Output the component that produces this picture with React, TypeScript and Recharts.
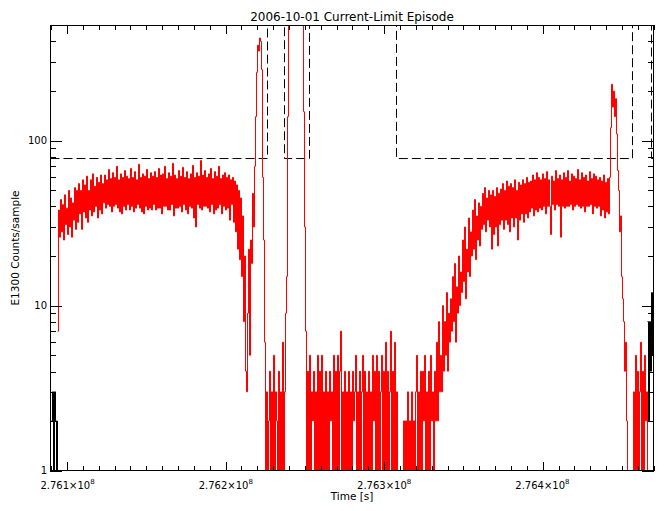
import { LineChart, Line, XAxis, YAxis } from "recharts";

// time axis is stored as seconds after 2.761e8
const X_DOMAIN = [-1075, 37016];
const Y_DOMAIN = [1, 500];

const majorTickTimes = [0, 10000, 20000, 30000];
const majorTickLabels = ["2.761", "2.762", "2.763", "2.764"];
const yMajorTicks = [1, 10, 100];
const yTicks = [1, 2, 3, 4, 5, 6, 7, 8, 9, 10, 20, 30, 40, 50, 60, 70, 80, 90, 100, 200, 300, 400];

// E1300 counts, one sample every RED_DT seconds starting at RED_T0
const RED_T0 = -632.8;
const RED_DT = 63.169;
const countsStart = [7, 38, 26, 44, 28, 41, 25, 47, 31, 39, 27, 50, 30, 45, 26, 42, 33, 52, 29, 50];
const countsEarly = [32, 55, 36, 50, 29, 58, 37, 54, 34, 61, 32, 50, 38, 58, 35, 63, 37, 53, 40, 60, 34, 56, 38, 62, 36, 55];
const countsPlateauA = [
  42, 62, 39, 58, 41, 67, 40, 59, 37, 64, 40, 60, 41, 70, 39, 58, 37, 63, 36, 60,
  40, 66, 38, 61, 41, 59, 38, 68, 40, 60, 37, 65, 39, 58, 41, 72, 39, 60, 37, 63,
  36, 61, 40, 67, 38, 59, 39, 64, 38, 61,
];
const countsPlateauB = [
  41, 65, 38, 60, 39, 68, 39, 62, 36, 63, 40, 70, 40, 59, 38, 64, 38, 61, 41, 73,
  35, 62, 39, 59, 39, 66, 40, 61, 37, 69, 41, 60, 38, 65, 36, 59, 40, 63, 39, 71,
  34, 60, 30, 64, 41, 61, 39, 76, 38, 62, 40, 66, 40, 60, 39, 63, 37, 68, 41, 59,
  36, 65, 38, 61, 39, 70, 41, 59, 36, 62, 40, 64, 38, 60, 39, 62, 33, 58, 41, 60,
];
const countsDrop = [32, 57, 28, 54, 22, 50, 19, 45, 15, 35, 8, 20, 4, 3, 9, 22, 5, 25, 18, 48, 30, 70];
const countsBurst1 = [140, 260, 380, 350, 420, 400, 270, 60, 25, 6, 1];
const countsGap1 = [3, 1, 2, 4, 1, 3, 1, 5, 1, 3, 2, 1, 4, 1, 3, 1, 6, 1, 3, 9];
const countsBurst2 = [15, 140, 2000, 3500, 2800, 3200, 3000, 2600, 3400, 2900, 3100, 2700, 3300, 2500, 2200, 2100, 2000, 150, 30, 7];
const countsQuiet = [
  1, 4, 1, 5, 1, 3, 2, 4, 1, 3, 1, 5, 1, 4, 1, 5, 1, 3, 1, 4,
  1, 3, 1, 4, 2, 3, 1, 5, 1, 4, 1, 5, 1, 4, 7, 1, 3, 1, 4, 1,
  3, 1, 4, 1, 3, 1, 4, 2, 3, 5, 1, 3, 1, 4, 1, 3, 5, 1, 4, 1,
  3, 1, 4, 1, 3, 1, 5, 2, 4, 1, 5, 1, 4, 1, 3, 5, 1, 4, 1, 6,
  1, 4, 1, 3, 7, 1, 4, 1, 6, 1, 3,
];
const countsRecovery = [
  1, 1, 1, 1, 1, 1, 2, 1, 2, 1, 3, 1, 2, 1, 3, 1, 2, 1, 3, 5,
  1, 3, 1, 4, 1, 4, 2, 5, 1, 3, 1, 4, 1, 5, 2, 3, 1, 4, 2, 6,
  2, 8, 3, 5,
];
const countsRise = [
  3, 10, 4, 8, 5, 12, 4, 9, 6, 11, 7, 15, 8, 18, 6, 13, 9, 20, 10, 16,
  12, 25, 14, 30, 11, 22, 16, 34, 15, 28, 20, 38, 22, 44, 19, 35, 25, 42, 23, 40,
  29, 48, 31, 52, 28, 45, 33, 50, 30, 47,
];
const countsPlateauC = [
  22, 50, 27, 46, 30, 52, 23, 48, 31, 51, 33, 55, 29, 50, 33, 57, 31, 53, 28, 55,
  34, 52, 30, 58, 34, 50, 25, 56, 33, 54, 36, 58, 32, 55, 36, 60, 34, 56, 37, 57,
  39, 62, 35, 58, 38, 64, 37, 60, 39, 58, 38, 63, 40, 59, 36, 65, 40, 58, 40, 27,
  61, 41, 57, 38, 66, 41, 59, 40, 62, 26, 58, 40, 64, 39, 60, 40, 66, 40, 57, 41,
  63, 38, 61, 40, 59, 41, 67, 40, 58, 39, 64, 40, 60, 37, 62, 40, 57, 40, 65, 41,
  59, 36, 63, 40, 61, 39, 58, 40, 60, 35, 57, 38, 62, 34, 56, 37, 59, 36,
];
const countsBurst3 = [60, 120, 220, 160, 200, 140, 180, 110, 66, 50, 28, 35, 15, 11, 8, 4, 6, 2, 1, 1, 1, 1, 1, 1];
const countsTail = [3, 1, 5, 1, 4, 1, 3, 6, 1, 4, 1, 5, 2, 3, 1];

// full-rate samples outside the red window
const BLACK_DT = 63.169;
const blackLeftT0 = -1011.8;
const blackLeftCounts = [2, 3, 1, 3, 2, 1, 2];
const blackRightT0 = 36637.9;
const blackRightCounts = [8, 2, 8, 4, 12, 5, 23];

// current-limit threshold (dashed)
const limitTimes = [-1075, 12632, 13706, 15285, 20781, 35689, 36889, 37016];
const limitCounts = [78, 1000, 78, 1000, 78, 1000, 78, 78];

const redCounts = [
  ...countsStart, ...countsEarly, ...countsPlateauA, ...countsPlateauB, ...countsDrop,
  ...countsBurst1, ...countsGap1, ...countsBurst2, ...countsQuiet, ...countsRecovery,
  ...countsRise, ...countsPlateauC, ...countsBurst3, ...countsTail,
];
const redData = redCounts.map((v, i) => ({ t: RED_T0 + i * RED_DT, v }));
const blackLeft = blackLeftCounts.map((v, i) => ({ t: blackLeftT0 + i * BLACK_DT, v }));
const blackRight = blackRightCounts.map((v, i) => ({ t: blackRightT0 + i * BLACK_DT, v }));
const limitData = limitTimes.map((t, i) => ({ t, v: limitCounts[i] }));

const xTicks = Array.from({ length: 39 }, (_, i) => (i - 1) * 1000);

const W = 664;
const H = 511;
const LEFT = 50;
const RIGHT = 654;
const TOP = 25;
const BOTTOM = 471;
const FONT = "DejaVu Sans";

// same mapping as the chart's axes, used for the inward tick marks of the box
const SEC_PER_PX = (X_DOMAIN[1] - X_DOMAIN[0]) / (RIGHT - LEFT);
const PX_PER_DECADE = (BOTTOM - TOP) / Math.log10(Y_DOMAIN[1] / Y_DOMAIN[0]);
const xPix = (t: number) => Math.round(LEFT + (t - X_DOMAIN[0]) / SEC_PER_PX);
const yPix = (v: number) => Math.round(BOTTOM - Math.log10(v / Y_DOMAIN[0]) * PX_PER_DECADE);

const XTick = (props: any) => {
  const { x, payload } = props;
  const idx = majorTickTimes.indexOf(payload.value);
  if (idx < 0) return <g />;
  return (
    <text x={x} y={489} textAnchor="middle" fontFamily={FONT} fontSize={10} fill="#000" stroke="none">
      {majorTickLabels[idx]}×10
      <tspan dy={-5} fontSize={7}>8</tspan>
    </text>
  );
};

const YTick = (props: any) => {
  const { y, payload } = props;
  const v = payload.value;
  if (!yMajorTicks.includes(v)) return <g />;
  return (
    <text x={47} y={y} dy="0.36em" textAnchor="end" fontFamily={FONT} fontSize={10} fill="#000" stroke="none">
      {v}
    </text>
  );
};

// tick marks as thin filled rectangles along the inside of the box
const BoxTicks = () => (
  <g fill="#000">
    {xTicks.map((t) => {
      const len = majorTickTimes.includes(t) ? 9 : 5;
      const x = xPix(t);
      return (
        <g key={`x${t}`}>
          <rect x={x} y={BOTTOM - len} width={1} height={len} />
          <rect x={x} y={TOP} width={1} height={len} />
        </g>
      );
    })}
    {yTicks.map((v) => {
      const len = yMajorTicks.includes(v) ? 12 : 6;
      const y = yPix(v);
      return (
        <g key={`y${v}`}>
          <rect x={LEFT} y={y} width={len} height={1} />
          <rect x={RIGHT - len} y={y} width={len} height={1} />
        </g>
      );
    })}
  </g>
);

export default function App() {
  return (
    <div style={{ position: "absolute", left: 0, top: 0, width: W, height: H, background: "#fff" }}>
      <LineChart
        width={W}
        height={H}
        margin={{ top: TOP + 0.5, right: W - RIGHT + 0.5, bottom: 0, left: 0 }}
      >
        <XAxis
          dataKey="t"
          type="number"
          domain={X_DOMAIN}
          allowDataOverflow
          ticks={xTicks}
          interval={0}
          tick={XTick}
          tickLine={false}
          axisLine={false}
          height={H - BOTTOM + 0.5}
        />
        <YAxis
          type="number"
          scale="log"
          domain={Y_DOMAIN}
          allowDataOverflow
          ticks={yTicks}
          interval={0}
          tick={YTick}
          tickLine={false}
          axisLine={false}
          width={LEFT + 0.5}
        />
        <Line data={limitData} dataKey="v" type="stepAfter" stroke="#000" strokeWidth={1}
          strokeDasharray="9 4" dot={false} activeDot={false} isAnimationActive={false} />
        <Line data={blackLeft} dataKey="v" type="stepAfter" stroke="#000" strokeWidth={1}
          dot={false} activeDot={false} isAnimationActive={false} />
        <Line data={blackRight} dataKey="v" type="stepAfter" stroke="#000" strokeWidth={1}
          dot={false} activeDot={false} isAnimationActive={false} />
        <Line data={redData} dataKey="v" type="stepAfter" stroke="#ff0000" strokeWidth={1}
          dot={false} activeDot={false} isAnimationActive={false} />
      </LineChart>
      <svg width={W} height={H} style={{ position: "absolute", left: 0, top: 0, pointerEvents: "none" }}>
        <rect x={LEFT} y={TOP} width={RIGHT - LEFT} height={1} fill="#000" />
        <rect x={LEFT} y={BOTTOM - 1} width={RIGHT - LEFT} height={1} fill="#000" />
        <rect x={LEFT} y={TOP} width={1} height={BOTTOM - TOP} fill="#000" />
        <rect x={RIGHT - 1} y={TOP} width={1} height={BOTTOM - TOP} fill="#000" />
        <BoxTicks />
        <text x={352} y={21} textAnchor="middle" fontFamily={FONT} fontSize={12} fill="#000">
          2006-10-01 Current-Limit Episode
        </text>
        <text x={352} y={500} textAnchor="middle" fontFamily={FONT} fontSize={10.5} fill="#000">
          Time [s]
        </text>
        <text transform="translate(19,248) rotate(-90)" textAnchor="middle" fontFamily={FONT} fontSize={10.5} fill="#000">
          E1300 Counts/sample
        </text>
      </svg>
    </div>
  );
}
